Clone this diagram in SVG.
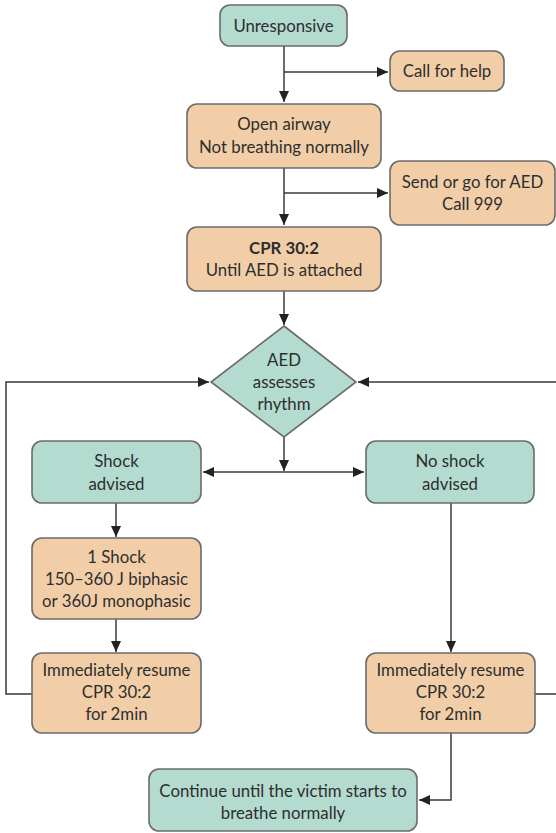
<svg xmlns="http://www.w3.org/2000/svg" width="556" height="833" viewBox="0 0 556 833">
<defs>
<style>
.g{fill:#b3dbcf;stroke:#6b6b6b;stroke-width:1.6}
.o{fill:#f2cea8;stroke:#6b6b6b;stroke-width:1.6}
text{font-family:"Lato","Open Sans","Liberation Sans",sans-serif;font-size:16.8px;fill:#2e2e2e;text-anchor:middle}
.b{font-weight:bold}
.c{fill:none;stroke:#3a3a3a;stroke-width:1.5}
</style>
<marker id="a" markerUnits="userSpaceOnUse" markerWidth="12" markerHeight="12" viewBox="0 0 12 12" refX="11" refY="6" orient="auto">
<path d="M0,1 L11,6 L0,11 Z" fill="#222"/>
</marker>
</defs>
<rect width="556" height="833" fill="#fff"/>
<g id="connectors">
<path class="c" d="M284,46 V102" marker-end="url(#a)"/>
<path class="c" d="M284,72 H388" marker-end="url(#a)"/>
<path class="c" d="M284,168 V225" marker-end="url(#a)"/>
<path class="c" d="M284,193 H388" marker-end="url(#a)"/>
<path class="c" d="M284,291 V325" marker-end="url(#a)"/>
<path class="c" d="M284,437 V471" marker-end="url(#a)"/>
<path class="c" d="M284,472 H203" marker-end="url(#a)"/>
<path class="c" d="M284,472 H364" marker-end="url(#a)"/>
<path class="c" d="M116,503 V537" marker-end="url(#a)"/>
<path class="c" d="M116,618 V652" marker-end="url(#a)"/>
<path class="c" d="M32,694 H6 V382 H209" marker-end="url(#a)"/>
<path class="c" d="M451,503 V652" marker-end="url(#a)"/>
<path class="c" d="M535,694 H562 V382 H358" marker-end="url(#a)"/>
<path class="c" d="M451,733 V800 H419" marker-end="url(#a)"/>
</g>
<g id="unresponsive"><rect class="g" x="220" y="5" width="127" height="41" rx="10"/><text x="283.5" y="32">Unresponsive</text></g>
<g id="call-help"><rect class="o" x="390" y="51" width="114" height="40" rx="10"/><text x="447" y="77">Call for help</text></g>
<g id="open-airway"><rect class="o" x="187" y="104" width="194" height="64" rx="10"/><text x="284" y="130">Open airway</text><text x="284" y="153">Not breathing normally</text></g>
<g id="send-aed"><rect class="o" x="390" y="161" width="165" height="64" rx="10"/><text x="472.5" y="188">Send or go for AED</text><text x="472.5" y="210">Call 999</text></g>
<g id="cpr"><rect class="o" x="187" y="227" width="194" height="64" rx="10"/><text class="b" x="284" y="254">CPR 30:2</text><text x="284" y="276">Until AED is attached</text></g>
<g id="aed-rhythm"><polygon class="g" points="284,326 356,382 284,437 211,382"/><text x="284" y="366">AED</text><text x="284" y="388">assesses</text><text x="284" y="410">rhythm</text></g>
<g id="shock-advised"><rect class="g" x="32" y="441" width="169" height="62" rx="10"/><text x="116.5" y="467">Shock</text><text x="116.5" y="490">advised</text></g>
<g id="no-shock"><rect class="g" x="366" y="441" width="168" height="62" rx="10"/><text x="450" y="467">No shock</text><text x="450" y="490">advised</text></g>
<g id="one-shock"><rect class="o" x="32" y="538" width="169" height="81" rx="10"/><text x="116.5" y="563">1 Shock</text><text x="116.5" y="585">150–360 J biphasic</text><text x="116.5" y="607">or 360J monophasic</text></g>
<g id="resume-left"><rect class="o" x="32" y="653" width="169" height="80" rx="10"/><text x="116.5" y="676">Immediately resume</text><text x="116.5" y="698">CPR 30:2</text><text x="116.5" y="720">for 2min</text></g>
<g id="resume-right"><rect class="o" x="366" y="653" width="169" height="80" rx="10"/><text x="450.5" y="676">Immediately resume</text><text x="450.5" y="698">CPR 30:2</text><text x="450.5" y="720">for 2min</text></g>
<g id="continue"><rect class="g" x="149" y="769" width="268" height="62" rx="10"/><text x="283" y="797">Continue until the victim starts to</text><text x="283" y="819">breathe normally</text></g>
</svg>
